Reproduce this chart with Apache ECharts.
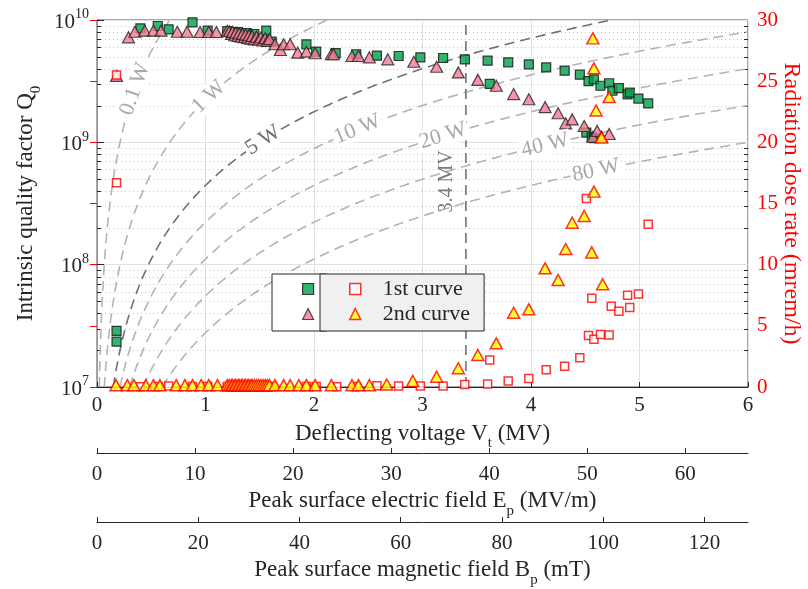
<!DOCTYPE html>
<html>
<head>
<meta charset="utf-8">
<script src="https://cdn.jsdelivr.net/npm/echarts@6/dist/echarts.min.js"></script>
<style>
  html, body { margin: 0; padding: 0; background: #ffffff; }
  #chart { width: 808px; height: 589px; }
</style>
</head>
<body>
<div id="chart"></div>
<script>
const FONT = '"Liberation Serif", "Times New Roman", serif';
const INK = '#262626';

// ---- axis ticks ----
const voltTicks = [0, 1, 2, 3, 4, 5, 6];
const epTicks = [0, 10, 20, 30, 40, 50, 60];
const bpTicks = [0, 20, 40, 60, 80, 100, 120];
const doseTicks = [0, 5, 10, 15, 20, 25, 30];
// log-scale minor grid positions
const minorQ = [2e7, 3e7, 4e7, 5e7, 6e7, 7e7, 8e7, 9e7,
                2e8, 3e8, 4e8, 5e8, 6e8, 7e8, 8e8, 9e8,
                2e9, 3e9, 4e9, 5e9, 6e9, 7e9, 8e9, 9e9];

// ---- 1st curve: intrinsic Q0 vs deflecting voltage (MV) ----
const q1V = [0.18, 0.18, 0.40, 0.56, 0.66, 0.88, 1.02, 1.20, 1.30, 1.38, 1.45, 1.56, 1.61,
             1.93, 2.02, 2.20, 2.39, 2.58, 2.78, 2.98, 3.19, 3.39, 3.60, 3.62, 3.79, 3.98,
             4.14, 4.31, 4.45, 4.51, 4.53, 4.56, 4.58, 4.58, 4.64, 4.72, 4.75, 4.81, 4.89,
             4.91, 4.99, 5.08];
const q1 = [2.88e7, 2.35e7, 8.55e9, 8.93e9, 8.39e9, 9.58e9, 8.18e9, 8.13e9, 7.97e9, 7.83e9, 7.68e9, 8.18e9, 6.65e9,
            6.33e9, 5.51e9, 5.37e9, 5.25e9, 5.11e9, 5.08e9, 4.95e9, 4.89e9, 4.77e9, 4.65e9, 3.0e9, 4.51e9, 4.34e9,
            4.10e9, 3.85e9, 3.57e9, 1.20e9, 3.17e9, 1.10e9, 3.27e9, 1.08e9, 2.90e9, 3.04e9, 2.64e9, 2.77e9, 2.47e9,
            2.55e9, 2.28e9, 2.08e9];

// ---- 1st curve: radiation dose rate (mrem/h) ----
const r1V = [0.18, 0.18, 0.40, 0.56, 0.66, 0.88, 1.02, 1.20, 1.30, 1.38, 1.45, 1.56, 1.61,
             1.93, 2.02, 2.21, 2.39, 2.58, 2.78, 2.98, 3.19, 3.39, 3.60, 3.62, 3.79, 3.98,
             4.14, 4.31, 4.45, 4.51, 4.53, 4.56, 4.58, 4.64, 4.72, 4.74, 4.81, 4.89, 4.91,
             4.99, 5.08];
const r1 = [25.5, 16.7, 0.03, 0.05, 0.08, 0.05, 0.05, 0.05, 0.05, 0.05, 0.05, 0.05, 0.05,
            0.05, 0.05, 0.03, 0.05, 0.1, 0.08, 0.08, 0.08, 0.2, 0.25, 2.2, 0.5, 0.7,
            1.4, 1.7, 2.4, 15.4, 4.2, 7.25, 3.9, 4.3, 4.25, 6.6, 6.2, 7.5, 6.5,
            7.6, 13.3];

// ---- 2nd curve: intrinsic Q0 ----
const q2V = [0.18, 0.29, 0.35, 0.44, 0.52, 0.59, 0.74, 0.83, 0.95, 1.03, 1.10, 1.20,
             1.22, 1.24, 1.25, 1.27, 1.28, 1.30, 1.31, 1.33, 1.34, 1.36, 1.37, 1.39,
             1.40, 1.42, 1.43, 1.45, 1.47, 1.49, 1.51, 1.53, 1.55, 1.57, 1.59,
             1.64, 1.69, 1.72, 1.78, 1.85, 1.93, 2.01, 2.16, 2.18, 2.35, 2.41, 2.51,
             2.68, 2.92, 3.13, 3.33, 3.51, 3.68, 3.84, 3.98, 4.13, 4.25, 4.32, 4.38,
             4.49, 4.57, 4.61, 4.65, 4.72];
const q2 = [3.49e9, 7.22e9, 8.02e9, 8.18e9, 8.18e9, 8.18e9, 8.02e9, 8.02e9, 7.98e9, 7.98e9, 7.98e9, 8.18e9,
            8.1e9, 7.7e9, 8.0e9, 7.5e9, 7.9e9, 7.4e9, 7.8e9, 7.3e9, 7.7e9, 7.25e9, 7.6e9, 7.1e9,
            7.5e9, 7.05e9, 7.4e9, 6.95e9, 7.3e9, 6.9e9, 7.2e9, 6.8e9, 7.1e9, 6.75e9, 7.0e9,
            6.33e9, 5.69e9, 6.33e9, 6.33e9, 5.41e9, 5.51e9, 5.35e9, 5.25e9, 5.25e9, 5.08e9, 5.08e9, 4.95e9,
            4.77e9, 4.56e9, 4.15e9, 3.73e9, 3.24e9, 2.90e9, 2.48e9, 2.25e9, 1.94e9, 1.73e9, 1.43e9, 1.54e9,
            1.36e9, 1.11e9, 1.24e9, 1.11e9, 1.17e9];

// ---- 2nd curve: radiation dose rate (mrem/h) ----
const r2V = [0.175, 0.28, 0.34, 0.45, 0.52, 0.58, 0.73, 0.81, 0.88, 0.96, 1.03, 1.11, 1.20,
             1.22, 1.24, 1.25, 1.27, 1.28, 1.30, 1.31, 1.33, 1.34, 1.36, 1.37, 1.39,
             1.40, 1.42, 1.43, 1.45, 1.47, 1.49, 1.51, 1.53, 1.55, 1.57, 1.59,
             1.64, 1.72, 1.78, 1.86, 1.93, 2.01, 2.16, 2.35, 2.41, 2.51,
             2.67, 2.91, 3.13, 3.33, 3.51, 3.68, 3.84, 3.98, 4.13, 4.25, 4.32, 4.38,
             4.49, 4.56, 4.58, 4.57, 4.58, 4.72, 4.60, 4.65, 4.66];
const r2 = [0.15, 0.15, 0.15, 0.15, 0.15, 0.15, 0.15, 0.15, 0.15, 0.15, 0.15, 0.15, 0.15,
            0.15, 0.15, 0.15, 0.15, 0.15, 0.15, 0.15, 0.15, 0.15, 0.15, 0.15, 0.15,
            0.15, 0.15, 0.15, 0.15, 0.15, 0.15, 0.15, 0.15, 0.15, 0.15, 0.15,
            0.15, 0.15, 0.15, 0.15, 0.15, 0.15, 0.15, 0.15, 0.15, 0.15,
            0.2, 0.5, 0.84, 1.53, 2.62, 3.57, 6.07, 6.35, 9.70, 8.75, 11.28, 13.43,
            13.98, 11.0, 15.97, 28.5, 26.05, 23.7, 22.6, 20.4, 8.4];

// ---- constant-power reference lines: P = Vt^2 / ((R/Q) * Q0) ----
const isoPowers = [0.1, 1, 5, 10, 20, 40, 80];       // W
const isoLabels = ['0.1 W', '1 W', '5 W', '10 W', '20 W', '40 W', '80 W'];
const isoLabelV = [0.35, 1.03, 1.53, 2.40, 3.19, 4.13, 4.60];  // MV, where each label sits
const rOverQ = 450;                                   // ohm
const limitV = 3.4;                                   // MV
const limitLabelQ = 4.8e8;

const pair = (xs, ys) => xs.map((x, i) => [x, ys[i]]);
const q0At = (v, p) => (v * 1e6) * (v * 1e6) / (rOverQ * p);

function isoCurve(p) {
  const v0 = Math.sqrt(1e7 * rOverQ * p) / 1e6;
  const v1 = Math.min(6, Math.sqrt(1e10 * rOverQ * p) / 1e6);
  const pts = [];
  const n = 160;
  for (let i = 0; i <= n; i++) {
    const t = i / n;
    const v = v0 + (v1 - v0) * t * t;
    pts.push([v, q0At(v, p)]);
  }
  return pts;
}

const subStyle = (size, drop) => ({ fontSize: size, fontFamily: FONT, color: INK, verticalAlign: 'top', padding: [drop, 0, 0, 0] });
const mainStyle = (size, color) => ({ fontSize: size, fontFamily: FONT, color: color || INK, verticalAlign: 'top' });

const axisNameRich = { a: mainStyle(23), s: subStyle(15, 14) };

function bottomAxis(min, max, ticks, offset, name, labelMargin, split) {
  return {
    type: 'value', min: min, max: max, position: 'bottom', offset: offset,
    gridIndex: 0,
    axisLine: { show: true, onZero: false, lineStyle: { color: INK, width: 1 } },
    axisTick: { show: true, inside: true, length: 5, customValues: ticks, lineStyle: { color: INK } },
    axisLabel: { show: true, customValues: ticks, margin: labelMargin, fontFamily: FONT, fontSize: 21, color: INK },
    splitLine: { show: !!split, lineStyle: { color: '#e2e2e2', width: 1 } },
    name: name, nameLocation: 'middle', nameGap: 35,
    nameTextStyle: { rich: axisNameRich }
  };
}

const chart = echarts.init(document.getElementById('chart'), null, { renderer: 'canvas' });

const isoSeries = isoPowers.map((p, i) => ({
  type: 'line', name: 'P' + i, xAxisIndex: 0, yAxisIndex: 0,
  data: isoCurve(p), showSymbol: false, symbol: 'none', silent: true, z: 2,
  lineStyle: { type: [10, 6], width: 1.6, color: p === 5 ? '#707070' : '#b4b4b4' },
  emphasis: { disabled: true }
}));

const option = {
  animation: false,
  textStyle: { fontFamily: FONT },
  grid: {
    left: 97, top: 20, width: 651, height: 367,
    outerBoundsMode: 'none', containLabel: false,
    show: true, borderColor: '#505050', borderWidth: 1, backgroundColor: 'transparent'
  },
  legend: [
    {
      orient: 'vertical', left: 272, top: 274, padding: [4, 2, 6, 30], itemGap: 3,
      itemWidth: 11, itemHeight: 11, selectedMode: false,
      backgroundColor: '#ffffff', borderColor: INK, borderWidth: 1,
      data: [
        { name: 'Q0 1st curve', icon: 'rect', itemStyle: { color: '#00a04a', borderColor: '#111', borderWidth: 1.2 } },
        { name: 'Q0 2nd curve', icon: 'triangle', itemStyle: { color: '#f27a93', borderColor: '#222', borderWidth: 1.2 } }
      ],
      formatter: () => '{e| }',
      textStyle: { rich: { e: { width: 1, lineHeight: 22, fontSize: 22, fontFamily: FONT } } }
    },
    {
      orient: 'vertical', left: 320, top: 274, padding: [4, 14, 6, 29], itemGap: 3,
      itemWidth: 11, itemHeight: 11, selectedMode: false,
      backgroundColor: '#f0f0f0', borderColor: INK, borderWidth: 1,
      data: [
        { name: '1st curve', icon: 'rect', itemStyle: { color: '#ffffff', borderColor: '#ff0000', borderWidth: 1.5 } },
        { name: '2nd curve', icon: 'triangle', itemStyle: { color: '#ffff00', borderColor: '#ff0000', borderWidth: 1.5 } }
      ],
      formatter: (n) => '{t|' + n + '}',
      textStyle: { rich: { t: { padding: [0, 0, 0, 17], lineHeight: 22, fontSize: 22, fontFamily: FONT, color: INK } } }
    }
  ],
  xAxis: [
    bottomAxis(0, 6, voltTicks, 0, '{a|Deflecting voltage V}{s|t}{a| (MV)}', 8, true),
    bottomAxis(0, 66.4, epTicks, 66, '{a|Peak surface electric field E}{s|p}{a| (MV/m)}', 11, false),
    bottomAxis(0, 128.6, bpTicks, 135, '{a|Peak surface magnetic field B}{s|p}{a| (mT)}', 11, false)
  ],
  yAxis: [
    {
      type: 'log', logBase: 10, min: 1e7, max: 1e10, position: 'left',
      axisLine: { show: true, lineStyle: { color: INK } },
      axisTick: { show: true, inside: true, length: 7, lineStyle: { color: INK } },
      axisLabel: {
        margin: 8,
        formatter: (v) => '{b|10}{s|' + Math.round(Math.log10(v)) + '}',
        rich: {
          b: { fontSize: 21, fontFamily: FONT, color: INK, verticalAlign: 'top', padding: [4, 0, 0, 0] },
          s: { fontSize: 14, fontFamily: FONT, color: INK, verticalAlign: 'top' }
        }
      },
      splitLine: { show: true, lineStyle: { color: '#e2e2e2', width: 1 } },
      name: '{a|Intrinsic quality factor Q}{s|0}',
      nameLocation: 'middle', nameRotate: 90, nameGap: 48,
      nameTextStyle: { rich: axisNameRich }
    },
    {
      type: 'value', min: 0, max: 30, interval: 5, position: 'right',
      axisLine: { show: true, lineStyle: { color: '#ff6a6a' } },
      axisTick: { show: true, inside: true, length: 7, lineStyle: { color: '#ff0000' } },
      axisLabel: { margin: 9, fontFamily: FONT, fontSize: 21, color: '#ff0000' },
      splitLine: { show: false },
      name: 'Radiation dose rate (mrem/h)',
      nameLocation: 'middle', nameRotate: -90, nameGap: 31, nameMoveOverlap: false,
      nameTextStyle: { fontFamily: FONT, fontSize: 24, color: '#ff0000' }
    }
  ],
  series: [
    {
      type: 'custom', name: 'minor grid', xAxisIndex: 0, yAxisIndex: 0, silent: true, z: 1,
      data: minorQ.map(q => [0, q]),
      renderItem: (params, api) => {
        const q = api.value(1);
        const l = api.coord([0, q]);
        const r = api.coord([6, q]);
        const y = Math.round(l[1]) + 0.5;
        return {
          type: 'group', children: [
            { type: 'line', shape: { x1: l[0], y1: y, x2: r[0], y2: y }, style: { stroke: '#c4c4c4', lineWidth: 1, lineDash: [1, 3] } },
            { type: 'line', shape: { x1: l[0], y1: y, x2: l[0] + 4, y2: y }, style: { stroke: INK, lineWidth: 1 } },
            { type: 'line', shape: { x1: r[0] - 4, y1: y, x2: r[0], y2: y }, style: { stroke: INK, lineWidth: 1 } }
          ]
        };
      }
    },
    ...isoSeries,
    {
      type: 'line', name: 'limit', xAxisIndex: 0, yAxisIndex: 0, silent: true, z: 2,
      data: [[limitV, 1e7], [limitV, 1e10]], showSymbol: false, symbol: 'none',
      lineStyle: { type: [10, 6], width: 1.6, color: '#707070' }
    },
    {
      type: 'scatter', name: 'Q0 1st curve', xAxisIndex: 0, yAxisIndex: 0, z: 3,
      data: pair(q1V, q1), symbol: 'rect', symbolSize: 9,
      itemStyle: { color: '#00a04a', borderColor: '#111', borderWidth: 1.2 }
    },
    {
      type: 'scatter', name: 'Q0 2nd curve', xAxisIndex: 0, yAxisIndex: 0, z: 3,
      data: pair(q2V, q2), symbol: 'triangle', symbolSize: [12, 11],
      itemStyle: { color: '#f27a93', borderColor: '#222', borderWidth: 1.2 }
    },
    {
      type: 'scatter', name: '1st curve', xAxisIndex: 0, yAxisIndex: 1, z: 3,
      data: pair(r1V, r1), symbol: 'rect', symbolSize: 8,
      itemStyle: { color: '#ffffff', borderColor: '#ff0000', borderWidth: 1.5 }
    },
    {
      type: 'scatter', name: '2nd curve', xAxisIndex: 0, yAxisIndex: 1, z: 3,
      data: pair(r2V, r2), symbol: 'triangle', symbolSize: [12, 11],
      itemStyle: { color: '#ffff00', borderColor: '#ff0000', borderWidth: 1.5 }
    }
  ]
};

chart.setOption(option);

// Annotations placed from data coordinates: power labels follow each curve's tangent.
function annotations() {
  const finder = { xAxisIndex: 0, yAxisIndex: 0 };
  const els = isoPowers.map((p, i) => {
    const v = isoLabelV[i];
    const c = chart.convertToPixel(finder, [v, q0At(v, p)]);
    const a = chart.convertToPixel(finder, [v - 0.02, q0At(v - 0.02, p)]);
    const b = chart.convertToPixel(finder, [v + 0.02, q0At(v + 0.02, p)]);
    const ang = Math.atan2(a[1] - b[1], b[0] - a[0]);
    return {
      type: 'text', x: c[0], y: c[1], rotation: ang, z: 4,
      style: {
        text: isoLabels[i], font: '22px ' + FONT,
        fill: p === 5 ? '#707070' : '#a8a8a8',
        align: 'center', verticalAlign: 'middle',
        backgroundColor: '#ffffff', padding: [0, 2]
      }
    };
  });
  const m = chart.convertToPixel(finder, [limitV, limitLabelQ]);
  els.push({
    type: 'text', x: m[0] - 19, y: m[1], rotation: Math.PI / 2, z: 4,
    style: { text: limitV + ' MV', font: '20px ' + FONT, fill: '#7a7a7a', align: 'center', verticalAlign: 'middle' }
  });
  chart.setOption({ graphic: els });
}
annotations();
</script>
</body>
</html>
